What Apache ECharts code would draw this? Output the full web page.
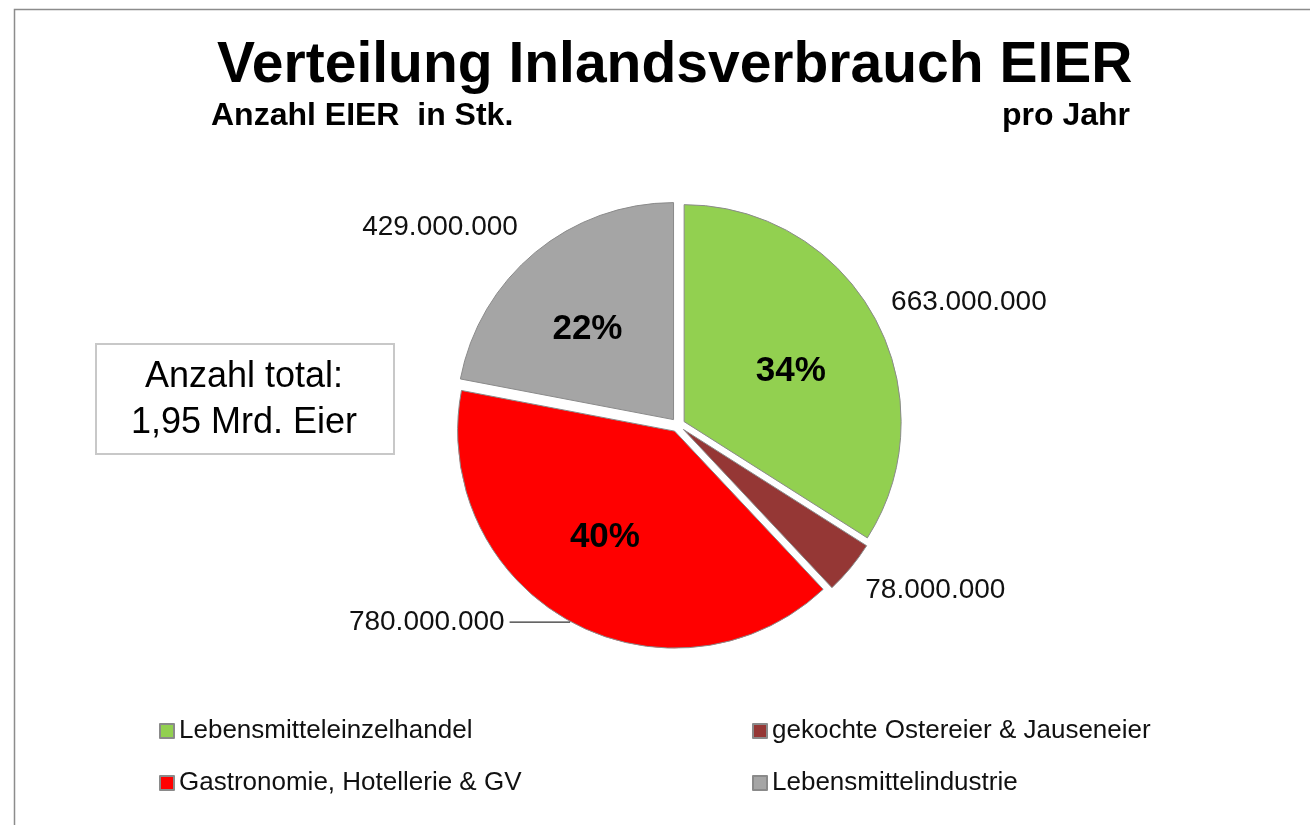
<!DOCTYPE html>
<html>
<head>
<meta charset="utf-8">
<script src="https://cdn.jsdelivr.net/npm/echarts@6/dist/echarts.min.js"></script>
<style>html,body{margin:0;padding:0;background:#fff}#chart{width:1310px;height:825px}</style>
</head>
<body>
<div id="chart"></div>
<script>
const categories = ['Lebensmitteleinzelhandel', 'gekochte Ostereier & Jauseneier', 'Gastronomie, Hotellerie & GV', 'Lebensmittelindustrie'];
const values = [663000000, 78000000, 780000000, 429000000];
const colors = ['#92D050', '#953735', '#FF0000', '#A5A5A5'];
const titleText = 'Verteilung Inlandsverbrauch EIER';
const subLeft = 'Anzahl EIER  in Stk.';
const subRight = 'pro Jahr';
const boxLines = ['Anzahl total:', '1,95 Mrd. Eier'];

// label nudges (styling only)
const innerShift = [[9, 3], [0, 0], [-16, 9], [-15, -4]];
const outerShift = [[3, -10], [2, 16], [0, 0], [-6, -17]];

const FONT = '"Liberation Sans", Arial, sans-serif';
const fmt = v => String(v).replace(/\B(?=(\d{3})+(?!\d))/g, '.');

const chart = echarts.init(document.getElementById('chart'), null, {renderer: 'canvas'});

const baseData = categories.map((n, i) => ({
  name: n, value: values[i], selected: true,
  itemStyle: {color: colors[i]}
}));
const outerData = categories.map((n, i) => {
  const d = {name: n, value: values[i], selected: true};
  if (i === 2) {
    d.labelLine = {show: true, length: 1, length2: 60};
    d.label = {padding: [0, 0, 28, 0]};
  } else {
    d.labelLine = {show: false, length: 10, length2: 0};
  }
  return d;
});

const pieCommon = {
  type: 'pie',
  center: [678, 425],
  radius: [0, 217],
  startAngle: 90,
  clockwise: true,
  selectedMode: 'multiple',
  selectedOffset: 7,
  avoidLabelOverlap: false,
  emphasis: {disabled: true},
  animation: false
};

chart.setOption({
  animation: false,
  title: [
    {text: titleText, left: 217, top: 38, padding: 0,
     textStyle: {fontFamily: FONT, fontSize: 57, fontWeight: 'bold', color: '#000'}},
    {text: subLeft, left: 211, top: 100, padding: 0,
     textStyle: {fontFamily: FONT, fontSize: 32, fontWeight: 'bold', color: '#000'}},
    {text: subRight, left: 1002, top: 100, padding: 0,
     textStyle: {fontFamily: FONT, fontSize: 32, fontWeight: 'bold', color: '#000'}}
  ],
  legend: [
    {data: [categories[0], categories[2]], orient: 'vertical', left: 159, top: 718, padding: 0,
     itemWidth: 14, itemHeight: 14, itemGap: 26, icon: 'rect',
     selectedMode: false,
     textStyle: {fontFamily: FONT, fontSize: 26, color: '#111'}},
    {data: [categories[1], categories[3]], orient: 'vertical', left: 752, top: 718, padding: 0,
     itemWidth: 14, itemHeight: 14, itemGap: 26, icon: 'rect',
     selectedMode: false,
     textStyle: {fontFamily: FONT, fontSize: 26, color: '#111'}}
  ],
  graphic: [
    {type: 'rect', left: 12, top: 7, silent: true,
     shape: {width: 1320, height: 840},
     style: {fill: 'none', stroke: '#8c8c8c', lineWidth: 1.5}},
    {type: 'rect', left: 95, top: 343, silent: true,
     shape: {width: 298, height: 110},
     style: {fill: '#fff', stroke: '#c8c8c8', lineWidth: 2}},
    {type: 'text', x: 244, y: 377, silent: true,
     style: {text: boxLines[0], font: '36px ' + FONT, fill: '#000', align: 'center', verticalAlign: 'middle'}},
    {type: 'text', x: 244, y: 423, silent: true,
     style: {text: boxLines[1], font: '36px ' + FONT, fill: '#000', align: 'center', verticalAlign: 'middle'}}
  ],
  series: [
    Object.assign({}, pieCommon, {
      name: 'inner',
      data: baseData,
      itemStyle: {borderColor: '#8a8a8a', borderWidth: 1},
      select: {itemStyle: {borderColor: '#8a8a8a', borderWidth: 1}},
      label: {
        show: true, position: 'inside',
        fontFamily: FONT, fontSize: 35, fontWeight: 'bold', color: '#000',
        formatter: p => p.percent < 5 ? '' : Math.round(p.percent) + '%'
      },
      labelLine: {show: false},
      labelLayout: p => ({dx: innerShift[p.dataIndex][0], dy: innerShift[p.dataIndex][1]})
    }),
    Object.assign({}, pieCommon, {
      name: 'outer',
      silent: true,
      data: outerData,
      itemStyle: {color: 'rgba(0,0,0,0)', borderWidth: 0},
      select: {itemStyle: {color: 'rgba(0,0,0,0)', borderWidth: 0}},
      label: {
        show: true, position: 'outside', distanceToLabelLine: 5,
        fontFamily: FONT, fontSize: 28, color: '#111',
        formatter: p => fmt(p.value)
      },
      labelLine: {lineStyle: {color: '#333', width: 1.2}},
      labelLayout: p => ({dx: outerShift[p.dataIndex][0], dy: outerShift[p.dataIndex][1]})
    })
  ]
});
</script>
</body>
</html>
